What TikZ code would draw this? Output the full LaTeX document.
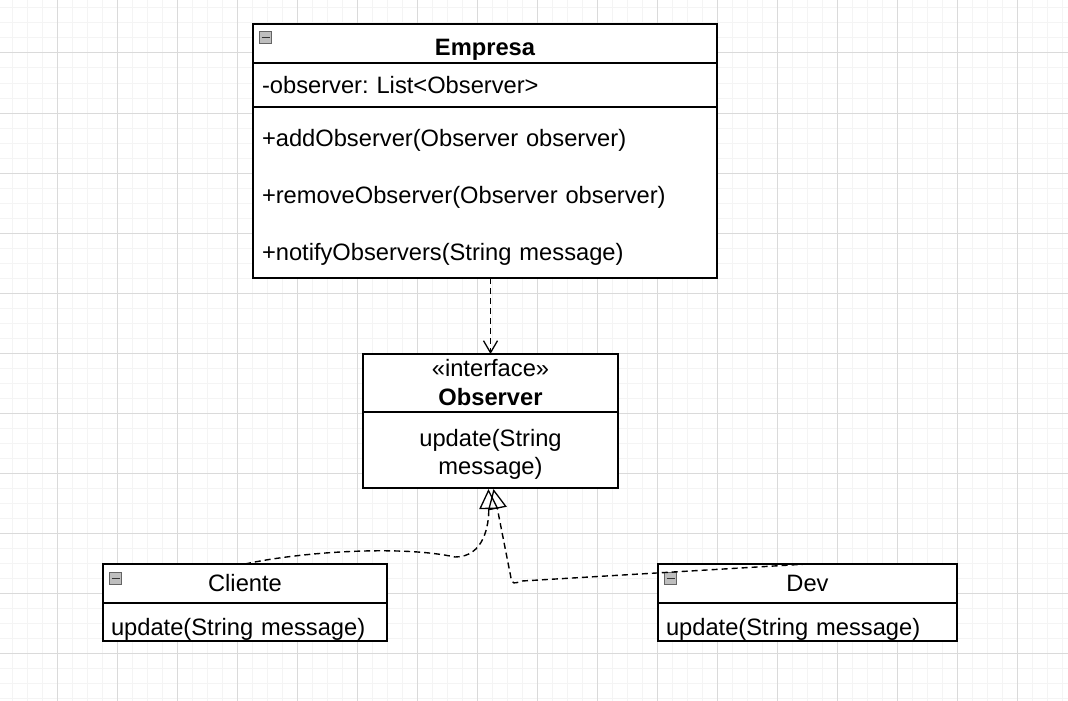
\documentclass[tikz,border=0pt]{standalone}
\usepackage{fontspec}
\setmainfont{Liberation Sans}
\frenchspacing
\usetikzlibrary{positioning,arrows.meta,calc}
\definecolor{gridmajor}{RGB}{218,218,218}
\definecolor{gridminor}{RGB}{244,244,244}
\definecolor{iconfill}{RGB}{190,190,190}
\definecolor{iconline}{RGB}{100,100,100}

\newcommand{\umlsize}{\fontsize{23.7}{29}\selectfont}

\begin{document}
\begin{tikzpicture}[x=1pt,y=-1pt,
    box/.style={draw, line width=1.3pt, fill=white, outer sep=0pt, inner sep=0pt, font=\umlsize},
    head/.style={box, minimum height=39pt, align=center},
    part/.style={box, align=left, inner xsep=9pt},
    collapse/.style={draw=iconline, fill=iconfill, line width=1pt, minimum width=12pt, minimum height=12pt,
        inner sep=0pt, anchor=north west,
        path picture={\draw[black!80, line width=1.6pt] ([xshift=2pt]path picture bounding box.west) -- ([xshift=-2pt]path picture bounding box.east);}},
    dep/.style={line width=1.4pt, dash pattern=on 6pt off 4pt},
    realize/.style={dep, -{Triangle[open, length=20pt, width=19pt, line width=1.3pt]}}
  ]
  % Background and grid
  \fill[white] (0,0) rectangle (1068,701);
  \useasboundingbox (0,0) rectangle (1068,701);
  \foreach \gx in {12,27,...,1062}
    \draw[gridminor, line width=1pt] (\gx,0) -- (\gx,701);
  \foreach \gy in {8,23,...,698}
    \draw[gridminor, line width=1pt] (0,\gy) -- (1068,\gy);
  \foreach \gx in {57,117,...,1017}
    \draw[gridmajor, line width=1pt] (\gx,0) -- (\gx,701);
  \foreach \gy in {53,113,...,653}
    \draw[gridmajor, line width=1pt] (0,\gy) -- (1068,\gy);

  % Empresa
  \node[head, minimum width=464pt, anchor=north west, font=\umlsize\bfseries, text height=24pt, text depth=0pt] (empHead) at (253,24) {Empresa};
  \node[part, text width=446pt, minimum height=44pt, below=0pt of empHead, text height=17pt, text depth=0pt] (empAttr) {-observer: List<Observer>};
  \node[part, text width=446pt, minimum height=171pt, below=0pt of empAttr, font=\fontsize{23.7}{57}\selectfont,
        text height=20pt, text depth=113pt] (empOps)
    {+addObserver(Observer observer)\\+removeObserver(Observer observer)\\+notifyObservers(String message)};
  \node[collapse] (empIcon) at ([xshift=6pt, yshift=-7pt]empHead.north west) {};

  % Observer
  \node[head, minimum width=255pt, minimum height=58pt, anchor=north west] (obsHead) at (363,354)
    {«interface»\\\textbf{Observer}};
  \node[box, minimum width=255pt, minimum height=76pt, align=center, below=0pt of obsHead,
        font=\fontsize{23.7}{28}\selectfont, text height=48pt, text depth=0pt] (obsBody)
    {update(String\\message)};

  % Cliente
  \node[head, minimum width=284pt, anchor=north west] (cliHead) at (103,564) {Cliente};
  \node[part, inner xsep=8pt, text width=268pt, minimum height=38pt, below=0pt of cliHead,
        text height=26pt, text depth=0pt] (cliBody) {update(String message)};
  \node[collapse] (cliIcon) at ([xshift=6pt, yshift=-8pt]cliHead.north west) {};

  % Dev
  \node[head, minimum width=299pt, anchor=north west] (devHead) at (658,564) {Dev};
  \node[part, inner xsep=8pt, text width=283pt, minimum height=38pt, below=0pt of devHead,
        text height=26pt, text depth=0pt] (devBody) {update(String message)};
  \node[collapse] (devIcon) at ([xshift=6pt, yshift=-8pt]devHead.north west) {};

  % Connectors
  \draw[dep, -{Straight Barb[length=12pt, width=14pt, line width=1.3pt]}] (empOps.south -| obsHead.north) -- (obsHead.north);
  \draw[realize] (cliHead.north) .. controls (300,552) and (400,545) .. (455,557)
    .. controls (484,557) and (489,525) .. ([xshift=-2pt, yshift=-1pt]obsBody.south);
  \draw[realize] (devHead.north) -- (522,581) .. controls (513,584) .. (511,578)
    -- ([xshift=3pt, yshift=-1pt]obsBody.south);
\end{tikzpicture}
\end{document}
